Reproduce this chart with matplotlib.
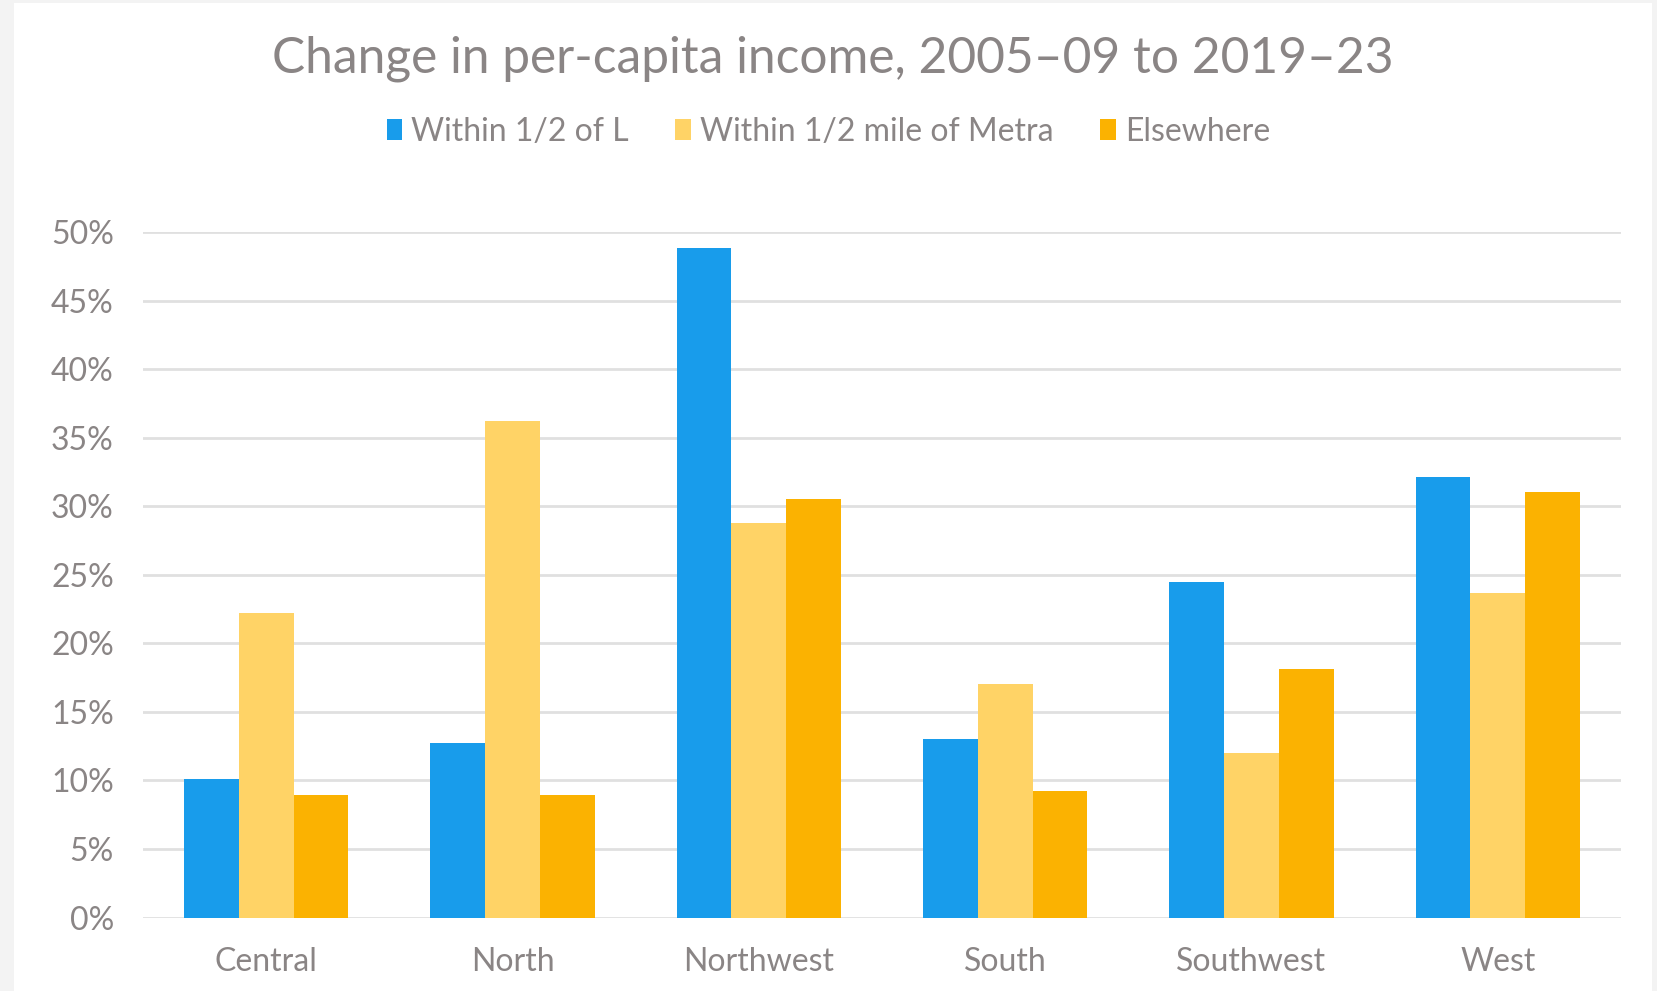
import matplotlib
matplotlib.use("Agg")
import matplotlib.pyplot as plt
import numpy as np
from matplotlib.patches import Rectangle
from matplotlib.ticker import FuncFormatter, MultipleLocator

categories = ["Central", "North", "Northwest", "South", "Southwest", "West"]
series_names = ["Within 1/2 of L", "Within 1/2 mile of Metra", "Elsewhere"]
within_L = [0.101, 0.127, 0.488, 0.130, 0.245, 0.321]
within_metra = [0.222, 0.362, 0.288, 0.170, 0.120, 0.237]
elsewhere = [0.089, 0.089, 0.305, 0.092, 0.181, 0.310]
colors = ["#189CEB", "#FFD366", "#FBB201"]
text_color = "#8A8585"
grid_color = "#E0E0E0"

plt.rcParams['font.family'] = ['Lato', 'DejaVu Sans']

fig = plt.figure(figsize=(16.57, 9.91), dpi=100)
fig.patch.set_facecolor("#F3F3F3")
bg = Rectangle((14 / 1657, 0), (1652 - 14) / 1657, 1 - 3 / 991,
               transform=fig.transFigure, facecolor="white",
               edgecolor="none", zorder=-10)
fig.patches.append(bg)

ax = fig.add_axes([143 / 1657, 1 - 917.5 / 991, (1621 - 143) / 1657, (917.5 - 232) / 991])
ax.set_facecolor("none")
ax.set_zorder(1)

x = np.arange(len(categories))
w = 0.222
data = [within_L, within_metra, elsewhere]
for i, (vals, name, c) in enumerate(zip(data, series_names, colors)):
    ax.bar(x + (i - 1) * w, vals, width=w, color=c, label=name, zorder=3, linewidth=0)

ax.set_xlim(-0.5, len(categories) - 0.5)
ax.set_ylim(0, 0.5)
ax.yaxis.set_major_locator(MultipleLocator(0.05))
ax.yaxis.set_major_formatter(FuncFormatter(lambda v, p: f"{v*100:.0f}%"))
ax.grid(axis="y", color=grid_color, linewidth=2.0, zorder=0)
ax.set_axisbelow(True)
for s in ax.spines.values():
    s.set_visible(False)
ax.set_xticks(x)
ax.set_xticklabels(categories)
ax.tick_params(axis="both", length=0, labelsize=23, labelcolor=text_color)
ax.tick_params(axis="y", pad=21)
ax.tick_params(axis="x", pad=21)

fig.text(0.5027, 1 - 59 / 991, "Change in per-capita income, 2005\u201309 to 2019\u201323",
         ha="center", va="center", fontsize=35.7, color=text_color)

leg = fig.legend(loc="center", bbox_to_anchor=(0.5, 1 - 132 / 991), ncol=3,
                 frameon=False, fontsize=23, handlelength=0.48, handleheight=0.62,
                 handletextpad=0.3, columnspacing=1.45, labelcolor=text_color)

fig.savefig("out.png", dpi=100, facecolor=fig.get_facecolor())
